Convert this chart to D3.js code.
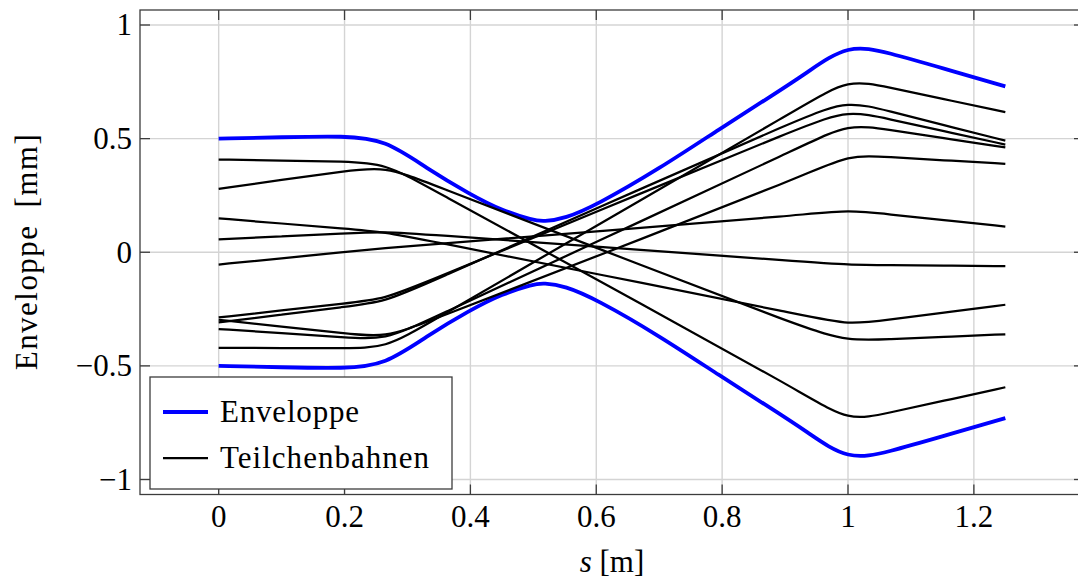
<!DOCTYPE html>
<html>
<head>
<meta charset="utf-8">
<script src="https://cdn.jsdelivr.net/npm/d3@7"></script>
<style>
  html, body { margin: 0; padding: 0; background: #ffffff; }
  svg { display: block; }
  text { font-family: "Liberation Serif", "DejaVu Serif", serif; fill: #000; }
</style>
</head>
<body>
<svg id="chart" width="1078" height="578"></svg>
<script>
// ---------------- data ----------------
const xTicks = [0, 0.2, 0.4, 0.6, 0.8, 1, 1.2];
const xTickLabels = ["0", "0.2", "0.4", "0.6", "0.8", "1", "1.2"];
const yTicks = [-1, -0.5, 0, 0.5, 1];
const yTickLabels = ["\u22121", "\u22120.5", "0", "0.5", "1"];

// envelope (s in m, value in mm); smoothed with a B-spline through these points
const sEnv = [0, 0.1, 0.2, 0.265, 0.33, 0.4, 0.45, 0.5, 0.516, 0.55, 0.6, 0.7, 0.8, 0.87, 0.935, 1.0, 1.065, 1.15, 1.25];
const envTop = [0.500, 0.506, 0.512, 0.495, 0.370, 0.254, 0.184, 0.140, 0.135, 0.148, 0.207, 0.367, 0.550, 0.673, 0.790, 0.918, 0.878, 0.810, 0.730];
const envBottom = [-0.500, -0.506, -0.512, -0.495, -0.370, -0.254, -0.184, -0.140, -0.135, -0.148, -0.207, -0.367, -0.550, -0.673, -0.790, -0.918, -0.878, -0.810, -0.730];

// particle trajectories (Teilchenbahnen): straight drifts, rounded through the two lenses
const sTraj = [0, 0.1, 0.2, 0.265, 0.33, 0.6, 0.935, 1.0, 1.065, 1.15, 1.25];
const trajA = [0.408, 0.4035, 0.399, 0.390, 0.291, -0.119, -0.628, -0.745, -0.706, -0.655, -0.594];
const trajB = [0.279, 0.318, 0.357, 0.378, 0.308, 0.020, -0.339, -0.390, -0.382, -0.373, -0.361];
const trajC = [0.149, 0.1265, 0.104, 0.089, 0.053, -0.095, -0.280, -0.320, -0.297, -0.267, -0.231];
const trajD = [0.057, 0.070, 0.083, 0.0915, 0.0785, 0.0245, -0.0425, -0.0555, -0.057, -0.059, -0.061];
const trajE = [-0.054, -0.0265, 0.001, 0.019, 0.033, 0.092, 0.166, 0.186, 0.167, 0.142, 0.113];
const trajF = [-0.287, -0.256, -0.225, -0.205, -0.131, 0.178, 0.561, 0.625, 0.586, 0.534, 0.474];
const trajG = [-0.309, -0.2745, -0.240, -0.218, -0.138, 0.192, 0.602, 0.667, 0.621, 0.561, 0.491];
const trajH = [-0.297, -0.327, -0.357, -0.3765, -0.307, -0.018, 0.341, 0.430, 0.419, 0.405, 0.389];
const trajI = [-0.338, -0.356, -0.374, -0.386, -0.302, 0.045, 0.476, 0.566, 0.539, 0.503, 0.461];
const trajJ = [-0.421, -0.4215, -0.422, -0.422, -0.318, 0.116, 0.654, 0.763, 0.725, 0.675, 0.617];
const trajectories = [trajA, trajB, trajC, trajD, trajE, trajF, trajG, trajH, trajI, trajJ];

const legendLabels = ["Enveloppe", "Teilchenbahnen"];

// ---------------- layout ----------------
const svg = d3.select("#chart");
const pLeft = 140, pRight = 1084, pTop = 10, pBottom = 494.5;
const x = d3.scaleLinear().domain([-0.125, 1.375]).range([pLeft, pRight]);
const y = d3.scaleLinear().domain([-1.066, 1.066]).range([pBottom, pTop]);

const gridColor = "#d4d4d4";
const axisColor = "#3c3c3c";
const fontSize = 31;

// grid
const grid = svg.append("g");
grid.selectAll("line.vx").data(xTicks).enter().append("line")
  .attr("x1", d => x(d)).attr("x2", d => x(d))
  .attr("y1", pTop).attr("y2", pBottom)
  .attr("stroke", gridColor).attr("stroke-width", 1.4);
grid.selectAll("line.hy").data(yTicks).enter().append("line")
  .attr("x1", pLeft).attr("x2", pRight)
  .attr("y1", d => y(d)).attr("y2", d => y(d))
  .attr("stroke", gridColor).attr("stroke-width", 1.4);

// clip
svg.append("clipPath").attr("id", "plotclip").append("rect")
  .attr("x", pLeft).attr("y", pTop).attr("width", pRight - pLeft).attr("height", pBottom - pTop);
const plot = svg.append("g").attr("clip-path", "url(#plotclip)");

const lineGen = (sArr) => d3.line()
  .x((d, i) => x(sArr[i]))
  .y(d => y(d))
  .curve(d3.curveBasis);

[envTop, envBottom].forEach(arr => {
  plot.append("path").datum(arr)
    .attr("d", lineGen(sEnv)).attr("fill", "none")
    .attr("stroke", "#0000ff").attr("stroke-width", 3.8).attr("stroke-linejoin", "round");
});

plot.selectAll("path.traj").data(trajectories).enter().append("path")
  .attr("class", "traj")
  .attr("d", d => lineGen(sTraj)(d)).attr("fill", "none")
  .attr("stroke", "#000").attr("stroke-width", 2.25).attr("stroke-linejoin", "round");

// frame
svg.append("rect").attr("x", pLeft).attr("y", pTop)
  .attr("width", pRight - pLeft).attr("height", pBottom - pTop)
  .attr("fill", "none").attr("stroke", axisColor).attr("stroke-width", 1.3);

// ticks (inward, all sides)
const tl = 10;
const ticks = svg.append("g").attr("stroke", axisColor).attr("stroke-width", 1.3);
xTicks.forEach(t => {
  ticks.append("line").attr("x1", x(t)).attr("x2", x(t)).attr("y1", pBottom).attr("y2", pBottom - tl);
  ticks.append("line").attr("x1", x(t)).attr("x2", x(t)).attr("y1", pTop).attr("y2", pTop + tl);
});
yTicks.forEach(t => {
  ticks.append("line").attr("x1", pLeft).attr("x2", pLeft + tl).attr("y1", y(t)).attr("y2", y(t));
  ticks.append("line").attr("x1", pRight).attr("x2", pRight - tl).attr("y1", y(t)).attr("y2", y(t));
});

// tick labels
svg.selectAll("text.xt").data(xTicks).enter().append("text")
  .attr("x", d => x(d)).attr("y", 527)
  .attr("text-anchor", "middle").attr("font-size", fontSize)
  .text((d, i) => xTickLabels[i]);
svg.selectAll("text.yt").data(yTicks).enter().append("text")
  .attr("x", 132).attr("y", d => y(d) + 10.5)
  .attr("text-anchor", "end").attr("font-size", fontSize)
  .text((d, i) => yTickLabels[i]);

// axis titles
const xt = svg.append("text").attr("x", (pLeft + pRight) / 2).attr("y", 572)
  .attr("text-anchor", "middle").attr("font-size", fontSize);
xt.append("tspan").attr("font-style", "italic").text("s");
xt.append("tspan").text(" [m]");

svg.append("text")
  .attr("transform", `translate(37, ${(pTop + pBottom) / 2}) rotate(-90)`)
  .attr("text-anchor", "middle").attr("font-size", fontSize)
  .attr("textLength", 236).attr("lengthAdjust", "spacing")
  .text("Enveloppe\u2002[mm]");

// legend
const lg = svg.append("g");
lg.append("rect").attr("x", 150).attr("y", 377).attr("width", 302).attr("height", 112)
  .attr("fill", "#fff").attr("stroke", axisColor).attr("stroke-width", 1.3);
const legColors = ["#0000ff", "#000"];
const legWidths = [3.8, 2.25];
const legY = [412, 458];
const legTextLen = [139, 209];
legendLabels.forEach((lab, i) => {
  lg.append("line").attr("x1", 163).attr("x2", 208).attr("y1", legY[i]).attr("y2", legY[i])
    .attr("stroke", legColors[i]).attr("stroke-width", legWidths[i]);
  lg.append("text").attr("x", 220).attr("y", legY[i] + 9.5)
    .attr("font-size", fontSize)
    .attr("textLength", legTextLen[i]).attr("lengthAdjust", "spacing")
    .text(lab);
});
</script>
</body>
</html>
